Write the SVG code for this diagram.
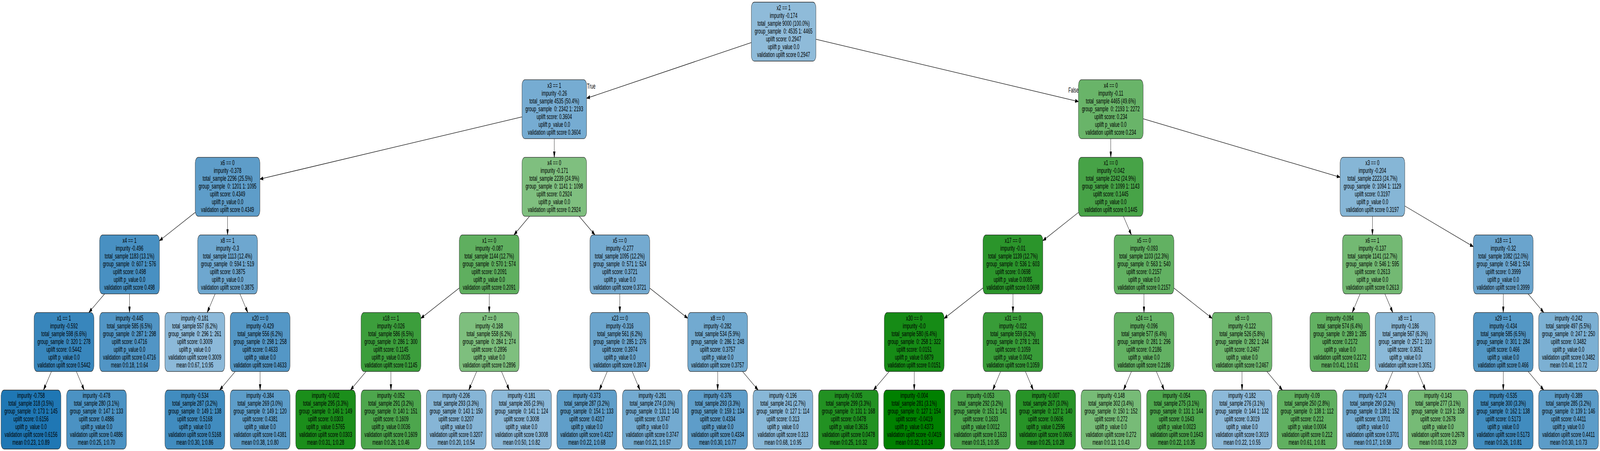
<svg xmlns="http://www.w3.org/2000/svg" width="7277" height="1155" viewBox="0 0 7277 1155" preserveAspectRatio="none">
<style>
:root{width:100vw;height:100vh;display:block}
rect.b{stroke:#222;stroke-width:1.3}
text{font-family:"Liberation Sans",Arial,Helvetica,sans-serif;font-size:19px;fill:#000;text-anchor:middle;white-space:pre}
text.lbl{text-anchor:start}
.e path{stroke:#000;stroke-width:1.3;fill:none;marker-end:url(#ah)}
</style>
<defs>
<marker id="ah" markerUnits="userSpaceOnUse" markerWidth="15" markerHeight="10" refX="15" refY="5" orient="auto"><path d="M0,0.5L15,5L0,9.5z" fill="#000" stroke="#000" stroke-width="1"/></marker>
</defs>
<rect width="7277" height="1155" fill="#fff"/>
<g id="edges" class="e">
<path d="M3416.5,109.1L2668,251.7"/>
<path d="M3711.5,100.7L4905,260.1"/>
<path d="M2374,299.4L1182,458.7"/>
<path d="M2521,355.2L2521,402.9"/>
<path d="M5052,355.2L5052,402.9"/>
<path d="M5199,304.2L6095,453.9"/>
<path d="M888,543.9L725,616.5"/>
<path d="M1035,553.9L1035,601.6"/>
<path d="M2408.5,553.9L2337.5,601.6"/>
<path d="M2634.2,553.9L2705.8,601.6"/>
<path d="M4905,544L4743,616.4"/>
<path d="M5109.4,553.9L5145.6,601.6"/>
<path d="M6242,553.9L6242,601.6"/>
<path d="M6389,527.5L6701,631.7"/>
<path d="M475.8,752.6L404.2,800.3"/>
<path d="M589,752.6L589,800.3"/>
<path d="M978.4,752.6L942.6,800.3"/>
<path d="M1091.2,752.6L1126.8,800.3"/>
<path d="M2089,737.6L1914,815.3"/>
<path d="M2225,752.6L2225,800.3"/>
<path d="M2819,752.6L2819,800.3"/>
<path d="M2955,737.8L3128,815.1"/>
<path d="M4471,737.4L4294,815.6"/>
<path d="M4607,752.6L4607,800.3"/>
<path d="M5203,752.6L5203,800.3"/>
<path d="M5339,737.7L5513,815.2"/>
<path d="M6185.8,752.6L6150.2,800.3"/>
<path d="M6298.6,752.6L6334.4,800.3"/>
<path d="M6837,752.6L6837,800.3"/>
<path d="M6949.9,752.6L7021.1,800.3"/>
<path d="M234,951.3L198,999"/>
<path d="M347.2,951.3L382.8,999"/>
<path d="M1070.1,951.3L998.9,999"/>
<path d="M1183,951.3L1183,999"/>
<path d="M1665.1,951.3L1593.9,999"/>
<path d="M1778,951.3L1778,999"/>
<path d="M2168,951.3L2132,999"/>
<path d="M2280.9,951.3L2316.1,999"/>
<path d="M2762,951.3L2726,999"/>
<path d="M2875.2,951.3L2910.8,999"/>
<path d="M3264,951.3L3264,999"/>
<path d="M3376.9,951.3L3448.1,999"/>
<path d="M4044.4,951.3L3972.6,999"/>
<path d="M4158,951.3L4158,999"/>
<path d="M4550.8,951.3L4515.2,999"/>
<path d="M4663.6,951.3L4699.4,999"/>
<path d="M5146,951.3L5110,999"/>
<path d="M5259.2,951.3L5294.8,999"/>
<path d="M5649,951.3L5649,999"/>
<path d="M5761.5,951.3L5832.5,999"/>
<path d="M6334.8,951.3L6299.2,999"/>
<path d="M6447.6,951.3L6483.4,999"/>
<path d="M6837,951.3L6837,999"/>
<path d="M6949.9,951.3L7021.1,999"/>
<text class="lbl" x="2670" y="227">True</text>
<text class="lbl" x="4859" y="237">False</text>
</g>
<g id="n0"><rect class="b" x="3417" y="5.5" width="294" height="151" rx="14" fill="#8fbbd9"/><text y="26"><tspan x="3564">x2 == 1</tspan><tspan x="3564" dy="20">impurity -0.174</tspan><tspan x="3564" dy="20">total_sample 9000 (100.0%)</tspan><tspan x="3564" dy="20">group_sample  0: 4535 1: 4465</tspan><tspan x="3564" dy="20">uplift score: 0.2947</tspan><tspan x="3564" dy="20">uplift p_value 0.0</tspan><tspan x="3564" dy="20">validation uplift score 0.2947</tspan></text></g>
<g id="n1"><rect class="b" x="2374" y="204.2" width="294" height="151" rx="14" fill="#76acd2"/><text y="224.7"><tspan x="2521">x3 == 1</tspan><tspan x="2521" dy="20">impurity -0.26</tspan><tspan x="2521" dy="20">total_sample 4535 (50.4%)</tspan><tspan x="2521" dy="20">group_sample  0: 2342 1: 2193</tspan><tspan x="2521" dy="20">uplift score: 0.3604</tspan><tspan x="2521" dy="20">uplift p_value 0.0</tspan><tspan x="2521" dy="20">validation uplift score 0.3604</tspan></text></g>
<g id="n2"><rect class="b" x="4905" y="204.2" width="294" height="151" rx="14" fill="#69b469"/><text y="224.7"><tspan x="5052">x4 == 0</tspan><tspan x="5052" dy="20">impurity -0.11</tspan><tspan x="5052" dy="20">total_sample 4465 (49.6%)</tspan><tspan x="5052" dy="20">group_sample  0: 2193 1: 2272</tspan><tspan x="5052" dy="20">uplift score: 0.234</tspan><tspan x="5052" dy="20">uplift p_value 0.0</tspan><tspan x="5052" dy="20">validation uplift score 0.234</tspan></text></g>
<g id="n3"><rect class="b" x="888" y="402.9" width="294" height="151" rx="14" fill="#5e9dc9"/><text y="423.4"><tspan x="1035">x6 == 0</tspan><tspan x="1035" dy="20">impurity -0.378</tspan><tspan x="1035" dy="20">total_sample 2296 (25.5%)</tspan><tspan x="1035" dy="20">group_sample  0: 1201 1: 1095</tspan><tspan x="1035" dy="20">uplift score: 0.4349</tspan><tspan x="1035" dy="20">uplift p_value 0.0</tspan><tspan x="1035" dy="20">validation uplift score 0.4349</tspan></text></g>
<g id="n4"><rect class="b" x="2374" y="402.9" width="294" height="151" rx="14" fill="#7fbf7f"/><text y="423.4"><tspan x="2521">x4 == 0</tspan><tspan x="2521" dy="20">impurity -0.171</tspan><tspan x="2521" dy="20">total_sample 2239 (24.9%)</tspan><tspan x="2521" dy="20">group_sample  0: 1141 1: 1098</tspan><tspan x="2521" dy="20">uplift score: 0.2924</tspan><tspan x="2521" dy="20">uplift p_value 0.0</tspan><tspan x="2521" dy="20">validation uplift score 0.2924</tspan></text></g>
<g id="n5"><rect class="b" x="4905" y="402.9" width="294" height="151" rx="14" fill="#47a347"/><text y="423.4"><tspan x="5052">x1 == 0</tspan><tspan x="5052" dy="20">impurity -0.042</tspan><tspan x="5052" dy="20">total_sample 2242 (24.9%)</tspan><tspan x="5052" dy="20">group_sample  0: 1099 1: 1143</tspan><tspan x="5052" dy="20">uplift score: 0.1445</tspan><tspan x="5052" dy="20">uplift p_value 0.0</tspan><tspan x="5052" dy="20">validation uplift score 0.1445</tspan></text></g>
<g id="n6"><rect class="b" x="6095" y="402.9" width="294" height="151" rx="14" fill="#86b6d6"/><text y="423.4"><tspan x="6242">x3 == 0</tspan><tspan x="6242" dy="20">impurity -0.204</tspan><tspan x="6242" dy="20">total_sample 2223 (24.7%)</tspan><tspan x="6242" dy="20">group_sample  0: 1094 1: 1129</tspan><tspan x="6242" dy="20">uplift score: 0.3197</tspan><tspan x="6242" dy="20">uplift p_value 0.0</tspan><tspan x="6242" dy="20">validation uplift score 0.3197</tspan></text></g>
<g id="n7"><rect class="b" x="453" y="601.6" width="272" height="151" rx="14" fill="#4890c2"/><text y="622.1"><tspan x="589">x4 == 1</tspan><tspan x="589" dy="20">impurity -0.496</tspan><tspan x="589" dy="20">total_sample 1183 (13.1%)</tspan><tspan x="589" dy="20">group_sample  0: 607 1: 576</tspan><tspan x="589" dy="20">uplift score: 0.498</tspan><tspan x="589" dy="20">uplift p_value 0.0</tspan><tspan x="589" dy="20">validation uplift score 0.498</tspan></text></g>
<g id="n8"><rect class="b" x="899" y="601.6" width="272" height="151" rx="14" fill="#6ea7cf"/><text y="622.1"><tspan x="1035">x8 == 1</tspan><tspan x="1035" dy="20">impurity -0.3</tspan><tspan x="1035" dy="20">total_sample 1113 (12.4%)</tspan><tspan x="1035" dy="20">group_sample  0: 594 1: 519</tspan><tspan x="1035" dy="20">uplift score: 0.3875</tspan><tspan x="1035" dy="20">uplift p_value 0.0</tspan><tspan x="1035" dy="20">validation uplift score 0.3875</tspan></text></g>
<g id="n9"><rect class="b" x="2089" y="601.6" width="272" height="151" rx="14" fill="#5faf5f"/><text y="622.1"><tspan x="2225">x1 == 0</tspan><tspan x="2225" dy="20">impurity -0.087</tspan><tspan x="2225" dy="20">total_sample 1144 (12.7%)</tspan><tspan x="2225" dy="20">group_sample  0: 570 1: 574</tspan><tspan x="2225" dy="20">uplift score: 0.2091</tspan><tspan x="2225" dy="20">uplift p_value 0.0</tspan><tspan x="2225" dy="20">validation uplift score 0.2091</tspan></text></g>
<g id="n10"><rect class="b" x="2683" y="601.6" width="272" height="151" rx="14" fill="#74aad0"/><text y="622.1"><tspan x="2819">x5 == 0</tspan><tspan x="2819" dy="20">impurity -0.277</tspan><tspan x="2819" dy="20">total_sample 1095 (12.2%)</tspan><tspan x="2819" dy="20">group_sample  0: 571 1: 524</tspan><tspan x="2819" dy="20">uplift score: 0.3721</tspan><tspan x="2819" dy="20">uplift p_value 0.0</tspan><tspan x="2819" dy="20">validation uplift score 0.3721</tspan></text></g>
<g id="n11"><rect class="b" x="4471" y="601.6" width="272" height="151" rx="14" fill="#2b952b"/><text y="622.1"><tspan x="4607">x17 == 0</tspan><tspan x="4607" dy="20">impurity -0.01</tspan><tspan x="4607" dy="20">total_sample 1139 (12.7%)</tspan><tspan x="4607" dy="20">group_sample  0: 536 1: 603</tspan><tspan x="4607" dy="20">uplift score: 0.0698</tspan><tspan x="4607" dy="20">uplift p_value 0.0085</tspan><tspan x="4607" dy="20">validation uplift score 0.0698</tspan></text></g>
<g id="n12"><rect class="b" x="5067" y="601.6" width="272" height="151" rx="14" fill="#62b162"/><text y="622.1"><tspan x="5203">x5 == 0</tspan><tspan x="5203" dy="20">impurity -0.093</tspan><tspan x="5203" dy="20">total_sample 1103 (12.3%)</tspan><tspan x="5203" dy="20">group_sample  0: 563 1: 540</tspan><tspan x="5203" dy="20">uplift score: 0.2157</tspan><tspan x="5203" dy="20">uplift p_value 0.0</tspan><tspan x="5203" dy="20">validation uplift score 0.2157</tspan></text></g>
<g id="n13"><rect class="b" x="6106" y="601.6" width="272" height="151" rx="14" fill="#73b973"/><text y="622.1"><tspan x="6242">x6 == 1</tspan><tspan x="6242" dy="20">impurity -0.137</tspan><tspan x="6242" dy="20">total_sample 1141 (12.7%)</tspan><tspan x="6242" dy="20">group_sample  0: 546 1: 595</tspan><tspan x="6242" dy="20">uplift score: 0.2613</tspan><tspan x="6242" dy="20">uplift p_value 0.0</tspan><tspan x="6242" dy="20">validation uplift score 0.2613</tspan></text></g>
<g id="n14"><rect class="b" x="6701" y="601.6" width="272" height="151" rx="14" fill="#6aa4cd"/><text y="622.1"><tspan x="6837">x18 == 1</tspan><tspan x="6837" dy="20">impurity -0.32</tspan><tspan x="6837" dy="20">total_sample 1082 (12.0%)</tspan><tspan x="6837" dy="20">group_sample  0: 548 1: 534</tspan><tspan x="6837" dy="20">uplift score: 0.3999</tspan><tspan x="6837" dy="20">uplift p_value 0.0</tspan><tspan x="6837" dy="20">validation uplift score 0.3999</tspan></text></g>
<g id="n15"><rect class="b" x="155" y="800.3" width="272" height="151" rx="14" fill="#3886bc"/><text y="820.8"><tspan x="291">x1 == 1</tspan><tspan x="291" dy="20">impurity -0.592</tspan><tspan x="291" dy="20">total_sample 598 (6.6%)</tspan><tspan x="291" dy="20">group_sample  0: 320 1: 278</tspan><tspan x="291" dy="20">uplift score: 0.5442</tspan><tspan x="291" dy="20">uplift p_value 0.0</tspan><tspan x="291" dy="20">validation uplift score 0.5442</tspan></text></g>
<g id="n16"><rect class="b" x="453" y="800.3" width="272" height="151" rx="14" fill="#5195c5"/><text y="820.8"><tspan x="589">impurity -0.445</tspan><tspan x="589" dy="20">total_sample 585 (6.5%)</tspan><tspan x="589" dy="20">group_sample  0: 287 1: 298</tspan><tspan x="589" dy="20">uplift score: 0.4716</tspan><tspan x="589" dy="20">uplift p_value 0.0</tspan><tspan x="589" dy="20">validation uplift score 0.4716</tspan><tspan x="589" dy="20">mean 0:0.18, 1:0.64</tspan></text></g>
<g id="n17"><rect class="b" x="750" y="800.3" width="272" height="151" rx="14" fill="#8cb9d9"/><text y="820.8"><tspan x="886">impurity -0.181</tspan><tspan x="886" dy="20">total_sample 557 (6.2%)</tspan><tspan x="886" dy="20">group_sample  0: 296 1: 261</tspan><tspan x="886" dy="20">uplift score: 0.3009</tspan><tspan x="886" dy="20">uplift p_value 0.0</tspan><tspan x="886" dy="20">validation uplift score 0.3009</tspan><tspan x="886" dy="20">mean 0:0.67, 1:0.95</tspan></text></g>
<g id="n18"><rect class="b" x="1047" y="800.3" width="272" height="151" rx="14" fill="#5497c6"/><text y="820.8"><tspan x="1183">x20 == 0</tspan><tspan x="1183" dy="20">impurity -0.429</tspan><tspan x="1183" dy="20">total_sample 556 (6.2%)</tspan><tspan x="1183" dy="20">group_sample  0: 298 1: 258</tspan><tspan x="1183" dy="20">uplift score: 0.4633</tspan><tspan x="1183" dy="20">uplift p_value 0.0</tspan><tspan x="1183" dy="20">validation uplift score 0.4633</tspan></text></g>
<g id="n19"><rect class="b" x="1642" y="800.3" width="272" height="151" rx="14" fill="#3c9e3c"/><text y="820.8"><tspan x="1778">x18 == 1</tspan><tspan x="1778" dy="20">impurity -0.026</tspan><tspan x="1778" dy="20">total_sample 586 (6.5%)</tspan><tspan x="1778" dy="20">group_sample  0: 286 1: 300</tspan><tspan x="1778" dy="20">uplift score: 0.1145</tspan><tspan x="1778" dy="20">uplift p_value 0.0035</tspan><tspan x="1778" dy="20">validation uplift score 0.1145</tspan></text></g>
<g id="n20"><rect class="b" x="2089" y="800.3" width="272" height="151" rx="14" fill="#7ebf7e"/><text y="820.8"><tspan x="2225">x7 == 0</tspan><tspan x="2225" dy="20">impurity -0.168</tspan><tspan x="2225" dy="20">total_sample 558 (6.2%)</tspan><tspan x="2225" dy="20">group_sample  0: 284 1: 274</tspan><tspan x="2225" dy="20">uplift score: 0.2896</tspan><tspan x="2225" dy="20">uplift p_value 0.0</tspan><tspan x="2225" dy="20">validation uplift score 0.2896</tspan></text></g>
<g id="n21"><rect class="b" x="2683" y="800.3" width="272" height="151" rx="14" fill="#6ba5cd"/><text y="820.8"><tspan x="2819">x23 == 0</tspan><tspan x="2819" dy="20">impurity -0.316</tspan><tspan x="2819" dy="20">total_sample 561 (6.2%)</tspan><tspan x="2819" dy="20">group_sample  0: 285 1: 276</tspan><tspan x="2819" dy="20">uplift score: 0.3974</tspan><tspan x="2819" dy="20">uplift p_value 0.0</tspan><tspan x="2819" dy="20">validation uplift score 0.3974</tspan></text></g>
<g id="n22"><rect class="b" x="3128" y="800.3" width="272" height="151" rx="14" fill="#72aad0"/><text y="820.8"><tspan x="3264">x8 == 0</tspan><tspan x="3264" dy="20">impurity -0.282</tspan><tspan x="3264" dy="20">total_sample 534 (5.9%)</tspan><tspan x="3264" dy="20">group_sample  0: 286 1: 248</tspan><tspan x="3264" dy="20">uplift score: 0.3757</tspan><tspan x="3264" dy="20">uplift p_value 0.0</tspan><tspan x="3264" dy="20">validation uplift score 0.3757</tspan></text></g>
<g id="n23"><rect class="b" x="4022" y="800.3" width="272" height="151" rx="14" fill="#168b16"/><text y="820.8"><tspan x="4158">x30 == 0</tspan><tspan x="4158" dy="20">impurity -0.0</tspan><tspan x="4158" dy="20">total_sample 580 (6.4%)</tspan><tspan x="4158" dy="20">group_sample  0: 258 1: 322</tspan><tspan x="4158" dy="20">uplift score: 0.0151</tspan><tspan x="4158" dy="20">uplift p_value 0.6879</tspan><tspan x="4158" dy="20">validation uplift score 0.0151</tspan></text></g>
<g id="n24"><rect class="b" x="4471" y="800.3" width="272" height="151" rx="14" fill="#389c38"/><text y="820.8"><tspan x="4607">x31 == 0</tspan><tspan x="4607" dy="20">impurity -0.022</tspan><tspan x="4607" dy="20">total_sample 559 (6.2%)</tspan><tspan x="4607" dy="20">group_sample  0: 278 1: 281</tspan><tspan x="4607" dy="20">uplift score: 0.1059</tspan><tspan x="4607" dy="20">uplift p_value 0.0042</tspan><tspan x="4607" dy="20">validation uplift score 0.1059</tspan></text></g>
<g id="n25"><rect class="b" x="5067" y="800.3" width="272" height="151" rx="14" fill="#63b163"/><text y="820.8"><tspan x="5203">x24 == 1</tspan><tspan x="5203" dy="20">impurity -0.096</tspan><tspan x="5203" dy="20">total_sample 577 (6.4%)</tspan><tspan x="5203" dy="20">group_sample  0: 281 1: 296</tspan><tspan x="5203" dy="20">uplift score: 0.2186</tspan><tspan x="5203" dy="20">uplift p_value 0.0</tspan><tspan x="5203" dy="20">validation uplift score 0.2186</tspan></text></g>
<g id="n26"><rect class="b" x="5513" y="800.3" width="272" height="151" rx="14" fill="#6eb76e"/><text y="820.8"><tspan x="5649">x8 == 0</tspan><tspan x="5649" dy="20">impurity -0.122</tspan><tspan x="5649" dy="20">total_sample 526 (5.8%)</tspan><tspan x="5649" dy="20">group_sample  0: 282 1: 244</tspan><tspan x="5649" dy="20">uplift score: 0.2467</tspan><tspan x="5649" dy="20">uplift p_value 0.0</tspan><tspan x="5649" dy="20">validation uplift score 0.2467</tspan></text></g>
<g id="n27"><rect class="b" x="5958" y="800.3" width="272" height="151" rx="14" fill="#62b162"/><text y="820.8"><tspan x="6094">impurity -0.094</tspan><tspan x="6094" dy="20">total_sample 574 (6.4%)</tspan><tspan x="6094" dy="20">group_sample  0: 289 1: 285</tspan><tspan x="6094" dy="20">uplift score: 0.2172</tspan><tspan x="6094" dy="20">uplift p_value 0.0</tspan><tspan x="6094" dy="20">validation uplift score 0.2172</tspan><tspan x="6094" dy="20">mean 0:0.41, 1:0.61</tspan></text></g>
<g id="n28"><rect class="b" x="6255" y="800.3" width="272" height="151" rx="14" fill="#8bb9d8"/><text y="820.8"><tspan x="6391">x8 == 1</tspan><tspan x="6391" dy="20">impurity -0.186</tspan><tspan x="6391" dy="20">total_sample 567 (6.3%)</tspan><tspan x="6391" dy="20">group_sample  0: 257 1: 310</tspan><tspan x="6391" dy="20">uplift score: 0.3051</tspan><tspan x="6391" dy="20">uplift p_value 0.0</tspan><tspan x="6391" dy="20">validation uplift score 0.3051</tspan></text></g>
<g id="n29"><rect class="b" x="6701" y="800.3" width="272" height="151" rx="14" fill="#5397c5"/><text y="820.8"><tspan x="6837">x29 == 1</tspan><tspan x="6837" dy="20">impurity -0.434</tspan><tspan x="6837" dy="20">total_sample 585 (6.5%)</tspan><tspan x="6837" dy="20">group_sample  0: 301 1: 284</tspan><tspan x="6837" dy="20">uplift score: 0.466</tspan><tspan x="6837" dy="20">uplift p_value 0.0</tspan><tspan x="6837" dy="20">validation uplift score 0.466</tspan></text></g>
<g id="n30"><rect class="b" x="6998" y="800.3" width="272" height="151" rx="14" fill="#7cb0d3"/><text y="820.8"><tspan x="7134">impurity -0.242</tspan><tspan x="7134" dy="20">total_sample 497 (5.5%)</tspan><tspan x="7134" dy="20">group_sample  0: 247 1: 250</tspan><tspan x="7134" dy="20">uplift score: 0.3482</tspan><tspan x="7134" dy="20">uplift p_value 0.0</tspan><tspan x="7134" dy="20">validation uplift score 0.3482</tspan><tspan x="7134" dy="20">mean 0:0.40, 1:0.72</tspan></text></g>
<g id="n31"><rect class="b" x="5" y="999" width="272" height="151" rx="14" fill="#1f77b4"/><text y="1019.5"><tspan x="141">impurity -0.758</tspan><tspan x="141" dy="20">total_sample 318 (3.5%)</tspan><tspan x="141" dy="20">group_sample  0: 173 1: 145</tspan><tspan x="141" dy="20">uplift score: 0.6156</tspan><tspan x="141" dy="20">uplift p_value 0.0</tspan><tspan x="141" dy="20">validation uplift score 0.6156</tspan><tspan x="141" dy="20">mean 0:0.23, 1:0.89</tspan></text></g>
<g id="n32"><rect class="b" x="303" y="999" width="272" height="151" rx="14" fill="#4b92c3"/><text y="1019.5"><tspan x="439">impurity -0.478</tspan><tspan x="439" dy="20">total_sample 280 (3.1%)</tspan><tspan x="439" dy="20">group_sample  0: 147 1: 133</tspan><tspan x="439" dy="20">uplift score: 0.4886</tspan><tspan x="439" dy="20">uplift p_value 0.0</tspan><tspan x="439" dy="20">validation uplift score 0.4886</tspan><tspan x="439" dy="20">mean 0:0.25, 1:0.70</tspan></text></g>
<g id="n33"><rect class="b" x="750" y="999" width="272" height="151" rx="14" fill="#418cbf"/><text y="1019.5"><tspan x="886">impurity -0.534</tspan><tspan x="886" dy="20">total_sample 287 (3.2%)</tspan><tspan x="886" dy="20">group_sample  0: 149 1: 138</tspan><tspan x="886" dy="20">uplift score: 0.5168</tspan><tspan x="886" dy="20">uplift p_value 0.0</tspan><tspan x="886" dy="20">validation uplift score 0.5168</tspan><tspan x="886" dy="20">mean 0:0.30, 1:0.86</tspan></text></g>
<g id="n34"><rect class="b" x="1047" y="999" width="272" height="151" rx="14" fill="#5d9dc9"/><text y="1019.5"><tspan x="1183">impurity -0.384</tspan><tspan x="1183" dy="20">total_sample 269 (3.0%)</tspan><tspan x="1183" dy="20">group_sample  0: 149 1: 120</tspan><tspan x="1183" dy="20">uplift score: 0.4381</tspan><tspan x="1183" dy="20">uplift p_value 0.0</tspan><tspan x="1183" dy="20">validation uplift score 0.4381</tspan><tspan x="1183" dy="20">mean 0:0.38, 1:0.80</tspan></text></g>
<g id="n35"><rect class="b" x="1345" y="999" width="272" height="151" rx="14" fill="#1b8e1b"/><text y="1019.5"><tspan x="1481">impurity -0.002</tspan><tspan x="1481" dy="20">total_sample 295 (3.3%)</tspan><tspan x="1481" dy="20">group_sample  0: 146 1: 149</tspan><tspan x="1481" dy="20">uplift score: 0.0303</tspan><tspan x="1481" dy="20">uplift p_value 0.5765</tspan><tspan x="1481" dy="20">validation uplift score 0.0303</tspan><tspan x="1481" dy="20">mean 0:0.31, 1:0.28</tspan></text></g>
<g id="n36"><rect class="b" x="1642" y="999" width="272" height="151" rx="14" fill="#4da64d"/><text y="1019.5"><tspan x="1778">impurity -0.052</tspan><tspan x="1778" dy="20">total_sample 291 (3.2%)</tspan><tspan x="1778" dy="20">group_sample  0: 140 1: 151</tspan><tspan x="1778" dy="20">uplift score: 0.1609</tspan><tspan x="1778" dy="20">uplift p_value 0.0036</tspan><tspan x="1778" dy="20">validation uplift score 0.1609</tspan><tspan x="1778" dy="20">mean 0:0.26, 1:0.46</tspan></text></g>
<g id="n37"><rect class="b" x="1939" y="999" width="272" height="151" rx="14" fill="#86b5d6"/><text y="1019.5"><tspan x="2075">impurity -0.206</tspan><tspan x="2075" dy="20">total_sample 293 (3.3%)</tspan><tspan x="2075" dy="20">group_sample  0: 143 1: 150</tspan><tspan x="2075" dy="20">uplift score: 0.3207</tspan><tspan x="2075" dy="20">uplift p_value 0.0</tspan><tspan x="2075" dy="20">validation uplift score 0.3207</tspan><tspan x="2075" dy="20">mean 0:0.20, 1:0.54</tspan></text></g>
<g id="n38"><rect class="b" x="2236" y="999" width="272" height="151" rx="14" fill="#8cb9d9"/><text y="1019.5"><tspan x="2372">impurity -0.181</tspan><tspan x="2372" dy="20">total_sample 265 (2.9%)</tspan><tspan x="2372" dy="20">group_sample  0: 141 1: 124</tspan><tspan x="2372" dy="20">uplift score: 0.3008</tspan><tspan x="2372" dy="20">uplift p_value 0.0</tspan><tspan x="2372" dy="20">validation uplift score 0.3008</tspan><tspan x="2372" dy="20">mean 0:0.50, 1:0.82</tspan></text></g>
<g id="n39"><rect class="b" x="2533" y="999" width="272" height="151" rx="14" fill="#5f9ec9"/><text y="1019.5"><tspan x="2669">impurity -0.373</tspan><tspan x="2669" dy="20">total_sample 287 (3.2%)</tspan><tspan x="2669" dy="20">group_sample  0: 154 1: 133</tspan><tspan x="2669" dy="20">uplift score: 0.4317</tspan><tspan x="2669" dy="20">uplift p_value 0.0</tspan><tspan x="2669" dy="20">validation uplift score 0.4317</tspan><tspan x="2669" dy="20">mean 0:0.22, 1:0.68</tspan></text></g>
<g id="n40"><rect class="b" x="2831" y="999" width="272" height="151" rx="14" fill="#73aad0"/><text y="1019.5"><tspan x="2967">impurity -0.281</tspan><tspan x="2967" dy="20">total_sample 274 (3.0%)</tspan><tspan x="2967" dy="20">group_sample  0: 131 1: 143</tspan><tspan x="2967" dy="20">uplift score: 0.3747</tspan><tspan x="2967" dy="20">uplift p_value 0.0</tspan><tspan x="2967" dy="20">validation uplift score 0.3747</tspan><tspan x="2967" dy="20">mean 0:0.21, 1:0.57</tspan></text></g>
<g id="n41"><rect class="b" x="3128" y="999" width="272" height="151" rx="14" fill="#5e9dc9"/><text y="1019.5"><tspan x="3264">impurity -0.376</tspan><tspan x="3264" dy="20">total_sample 293 (3.3%)</tspan><tspan x="3264" dy="20">group_sample  0: 159 1: 134</tspan><tspan x="3264" dy="20">uplift score: 0.4334</tspan><tspan x="3264" dy="20">uplift p_value 0.0</tspan><tspan x="3264" dy="20">validation uplift score 0.4334</tspan><tspan x="3264" dy="20">mean 0:0.30, 1:0.77</tspan></text></g>
<g id="n42"><rect class="b" x="3425" y="999" width="272" height="151" rx="14" fill="#88b7d7"/><text y="1019.5"><tspan x="3561">impurity -0.196</tspan><tspan x="3561" dy="20">total_sample 241 (2.7%)</tspan><tspan x="3561" dy="20">group_sample  0: 127 1: 114</tspan><tspan x="3561" dy="20">uplift score: 0.313</tspan><tspan x="3561" dy="20">uplift p_value 0.0</tspan><tspan x="3561" dy="20">validation uplift score 0.313</tspan><tspan x="3561" dy="20">mean 0:0.68, 1:0.95</tspan></text></g>
<g id="n43"><rect class="b" x="3723" y="999" width="272" height="151" rx="14" fill="#229122"/><text y="1019.5"><tspan x="3859">impurity -0.005</tspan><tspan x="3859" dy="20">total_sample 299 (3.3%)</tspan><tspan x="3859" dy="20">group_sample  0: 131 1: 168</tspan><tspan x="3859" dy="20">uplift score: 0.0478</tspan><tspan x="3859" dy="20">uplift p_value 0.3616</tspan><tspan x="3859" dy="20">validation uplift score 0.0478</tspan><tspan x="3859" dy="20">mean 0:0.25, 1:0.32</tspan></text></g>
<g id="n44"><rect class="b" x="4019" y="999" width="278" height="151" rx="14" fill="#008000"/><text y="1019.5"><tspan x="4158">impurity -0.004</tspan><tspan x="4158" dy="20">total_sample 281 (3.1%)</tspan><tspan x="4158" dy="20">group_sample  0: 127 1: 154</tspan><tspan x="4158" dy="20">uplift score: -0.0419</tspan><tspan x="4158" dy="20">uplift p_value 0.4373</tspan><tspan x="4158" dy="20">validation uplift score -0.0419</tspan><tspan x="4158" dy="20">mean 0:0.32, 1:0.24</tspan></text></g>
<g id="n45"><rect class="b" x="4323" y="999" width="272" height="151" rx="14" fill="#4ea74e"/><text y="1019.5"><tspan x="4459">impurity -0.053</tspan><tspan x="4459" dy="20">total_sample 292 (3.2%)</tspan><tspan x="4459" dy="20">group_sample  0: 151 1: 141</tspan><tspan x="4459" dy="20">uplift score: 0.1633</tspan><tspan x="4459" dy="20">uplift p_value 0.0012</tspan><tspan x="4459" dy="20">validation uplift score 0.1633</tspan><tspan x="4459" dy="20">mean 0:0.15, 1:0.35</tspan></text></g>
<g id="n46"><rect class="b" x="4620" y="999" width="272" height="151" rx="14" fill="#279327"/><text y="1019.5"><tspan x="4756">impurity -0.007</tspan><tspan x="4756" dy="20">total_sample 267 (3.0%)</tspan><tspan x="4756" dy="20">group_sample  0: 127 1: 140</tspan><tspan x="4756" dy="20">uplift score: 0.0606</tspan><tspan x="4756" dy="20">uplift p_value 0.2596</tspan><tspan x="4756" dy="20">validation uplift score 0.0606</tspan><tspan x="4756" dy="20">mean 0:0.25, 1:0.28</tspan></text></g>
<g id="n47"><rect class="b" x="4917" y="999" width="272" height="151" rx="14" fill="#77bb77"/><text y="1019.5"><tspan x="5053">impurity -0.148</tspan><tspan x="5053" dy="20">total_sample 302 (3.4%)</tspan><tspan x="5053" dy="20">group_sample  0: 150 1: 152</tspan><tspan x="5053" dy="20">uplift score: 0.272</tspan><tspan x="5053" dy="20">uplift p_value 0.0</tspan><tspan x="5053" dy="20">validation uplift score 0.272</tspan><tspan x="5053" dy="20">mean 0:0.13, 1:0.43</tspan></text></g>
<g id="n48"><rect class="b" x="5215" y="999" width="272" height="151" rx="14" fill="#4ea74e"/><text y="1019.5"><tspan x="5351">impurity -0.054</tspan><tspan x="5351" dy="20">total_sample 275 (3.1%)</tspan><tspan x="5351" dy="20">group_sample  0: 131 1: 144</tspan><tspan x="5351" dy="20">uplift score: 0.1643</tspan><tspan x="5351" dy="20">uplift p_value 0.0023</tspan><tspan x="5351" dy="20">validation uplift score 0.1643</tspan><tspan x="5351" dy="20">mean 0:0.22, 1:0.35</tspan></text></g>
<g id="n49"><rect class="b" x="5513" y="999" width="272" height="151" rx="14" fill="#8cb9d9"/><text y="1019.5"><tspan x="5649">impurity -0.182</tspan><tspan x="5649" dy="20">total_sample 276 (3.1%)</tspan><tspan x="5649" dy="20">group_sample  0: 144 1: 132</tspan><tspan x="5649" dy="20">uplift score: 0.3019</tspan><tspan x="5649" dy="20">uplift p_value 0.0</tspan><tspan x="5649" dy="20">validation uplift score 0.3019</tspan><tspan x="5649" dy="20">mean 0:0.22, 1:0.55</tspan></text></g>
<g id="n50"><rect class="b" x="5809" y="999" width="272" height="151" rx="14" fill="#60b060"/><text y="1019.5"><tspan x="5945">impurity -0.09</tspan><tspan x="5945" dy="20">total_sample 250 (2.8%)</tspan><tspan x="5945" dy="20">group_sample  0: 138 1: 112</tspan><tspan x="5945" dy="20">uplift score: 0.212</tspan><tspan x="5945" dy="20">uplift p_value 0.0004</tspan><tspan x="5945" dy="20">validation uplift score 0.212</tspan><tspan x="5945" dy="20">mean 0:0.61, 1:0.81</tspan></text></g>
<g id="n51"><rect class="b" x="6107" y="999" width="272" height="151" rx="14" fill="#74abd1"/><text y="1019.5"><tspan x="6243">impurity -0.274</tspan><tspan x="6243" dy="20">total_sample 290 (3.2%)</tspan><tspan x="6243" dy="20">group_sample  0: 138 1: 152</tspan><tspan x="6243" dy="20">uplift score: 0.3701</tspan><tspan x="6243" dy="20">uplift p_value 0.0</tspan><tspan x="6243" dy="20">validation uplift score 0.3701</tspan><tspan x="6243" dy="20">mean 0:0.17, 1:0.58</tspan></text></g>
<g id="n52"><rect class="b" x="6404" y="999" width="272" height="151" rx="14" fill="#76bb76"/><text y="1019.5"><tspan x="6540">impurity -0.143</tspan><tspan x="6540" dy="20">total_sample 277 (3.1%)</tspan><tspan x="6540" dy="20">group_sample  0: 119 1: 158</tspan><tspan x="6540" dy="20">uplift score: 0.2678</tspan><tspan x="6540" dy="20">uplift p_value 0.0</tspan><tspan x="6540" dy="20">validation uplift score 0.2678</tspan><tspan x="6540" dy="20">mean 0:0.03, 1:0.29</tspan></text></g>
<g id="n53"><rect class="b" x="6701" y="999" width="272" height="151" rx="14" fill="#418cbf"/><text y="1019.5"><tspan x="6837">impurity -0.535</tspan><tspan x="6837" dy="20">total_sample 300 (3.3%)</tspan><tspan x="6837" dy="20">group_sample  0: 162 1: 138</tspan><tspan x="6837" dy="20">uplift score: 0.5173</tspan><tspan x="6837" dy="20">uplift p_value 0.0</tspan><tspan x="6837" dy="20">validation uplift score 0.5173</tspan><tspan x="6837" dy="20">mean 0:0.26, 1:0.81</tspan></text></g>
<g id="n54"><rect class="b" x="6998" y="999" width="272" height="151" rx="14" fill="#5c9cc8"/><text y="1019.5"><tspan x="7134">impurity -0.389</tspan><tspan x="7134" dy="20">total_sample 285 (3.2%)</tspan><tspan x="7134" dy="20">group_sample  0: 139 1: 146</tspan><tspan x="7134" dy="20">uplift score: 0.4411</tspan><tspan x="7134" dy="20">uplift p_value 0.0</tspan><tspan x="7134" dy="20">validation uplift score 0.4411</tspan><tspan x="7134" dy="20">mean 0:0.30, 1:0.73</tspan></text></g>
</svg>
